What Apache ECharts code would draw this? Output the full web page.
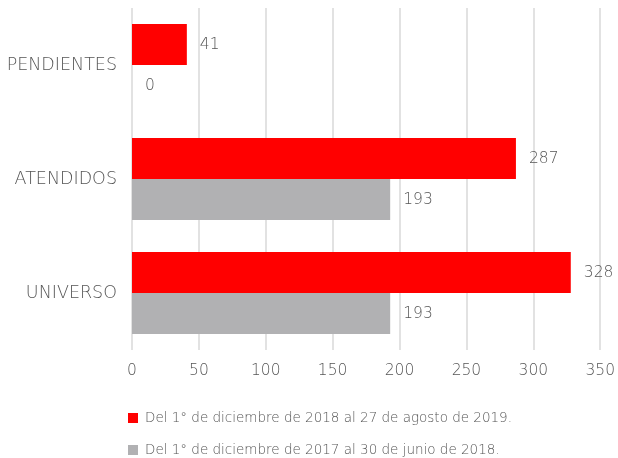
<!DOCTYPE html>
<html><head><meta charset="utf-8">
<script src="https://cdn.jsdelivr.net/npm/echarts@6/dist/echarts.min.js"></script>
<style>html,body{margin:0;padding:0;background:#fff}#c{width:618px;height:458px}</style>
</head><body><div id="c"></div>
<script>
const categories = ['PENDIENTES', 'ATENDIDOS', 'UNIVERSO'];
const series2019Name = 'Del 1° de diciembre de 2018 al 27 de agosto de 2019.';
const series2018Name = 'Del 1° de diciembre de 2017 al 30 de junio de 2018.';
const series2019 = [41, 287, 328];
const series2018 = [0, 193, 193];
const xTicks = { min: 0, max: 350, interval: 50 };

const FONT = 'DejaVu Sans';
const W = 200;
const TXT = '#555555';
const chart = echarts.init(document.getElementById('c'), null, {renderer: 'canvas'});
const lbl = {show: true, position: 'right', distance: 13, color: TXT, fontSize: 15.5, fontFamily: FONT, fontWeight: W};
chart.setOption({
  animation: false,
  grid: {left: 132, right: 14, top: 8, bottom: 108, containLabel: false},
  legend: {
    orient: 'vertical', left: 128, top: 411, itemGap: 18, padding: 0, height: 120,
    itemWidth: 10, itemHeight: 10, icon: 'rect',
    data: [series2019Name, series2018Name],
    textStyle: {color: TXT, fontSize: 13.5, fontFamily: FONT, fontWeight: W, padding: [0, 0, 0, 2]}
  },
  xAxis: {
    type: 'value', min: xTicks.min, max: xTicks.max, interval: xTicks.interval,
    axisLine: {show: false}, axisTick: {show: false},
    splitLine: {show: true, lineStyle: {color: '#d9d9d9', width: 1.5}},
    axisLabel: {color: TXT, fontSize: 15.5, fontFamily: FONT, fontWeight: W, margin: 13}
  },
  yAxis: {
    type: 'category', data: categories, inverse: true,
    axisLine: {show: false}, axisTick: {show: false},
    axisLabel: {color: TXT, fontSize: 17.5, fontFamily: FONT, fontWeight: W, margin: 15}
  },
  series: [
    {name: series2019Name, type: 'bar', data: series2019, barGap: '0%', barCategoryGap: '28%',
     itemStyle: {color: '#FF0000'}, label: lbl},
    {name: series2018Name, type: 'bar', data: series2018, barGap: '0%', barCategoryGap: '28%',
     itemStyle: {color: '#B1B1B3'}, label: lbl}
  ]
});
</script></body></html>
